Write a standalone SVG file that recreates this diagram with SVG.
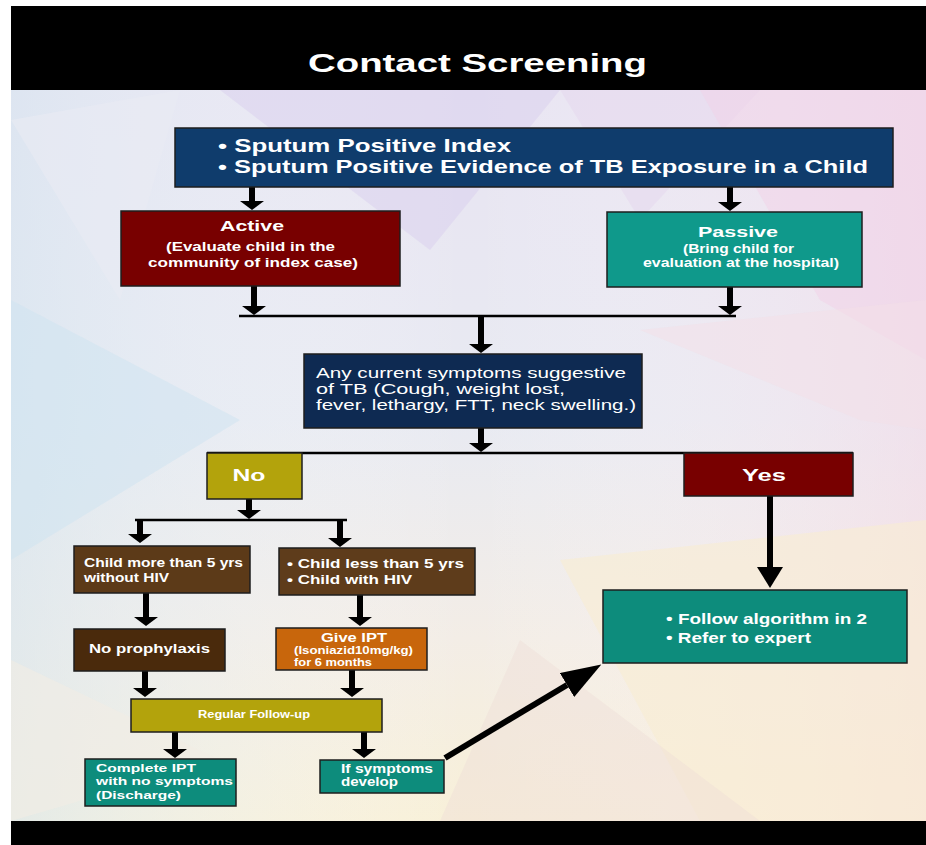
<svg xmlns="http://www.w3.org/2000/svg" width="926" height="845" viewBox="0 0 926 845">
<defs>
  <linearGradient id="bgV" x1="0" y1="0" x2="0" y2="1">
    <stop offset="0" stop-color="#e8e4f2"/>
    <stop offset="0.45" stop-color="#e8eaf2"/>
    <stop offset="0.75" stop-color="#f3ede6"/>
    <stop offset="1" stop-color="#f8f0d8"/>
  </linearGradient>
  <linearGradient id="bgH" x1="0" y1="0" x2="1" y2="0">
    <stop offset="0" stop-color="#d6e6f0" stop-opacity="0.6"/>
    <stop offset="0.5" stop-color="#ffffff" stop-opacity="0"/>
    <stop offset="1" stop-color="#f7d8e6" stop-opacity="0.5"/>
  </linearGradient>
  <marker id="ah" markerUnits="userSpaceOnUse" markerWidth="9" markerHeight="24" viewBox="0 0 9 24" refX="0" refY="12" orient="auto">
    <path d="M0,0 L9,12 L0,24 Z" fill="#000"/>
  </marker>
  <marker id="ahY" markerUnits="userSpaceOnUse" markerWidth="21" markerHeight="26" viewBox="0 0 21 26" refX="0" refY="13" orient="auto">
    <path d="M0,0 L21,13 L0,26 Z" fill="#000"/>
  </marker>
  <marker id="ahD" markerUnits="userSpaceOnUse" markerWidth="40" markerHeight="28" viewBox="0 0 40 28" refX="0" refY="14" orient="auto">
    <path d="M0,0 L40,14 L0,28 Z" fill="#000"/>
  </marker>
  <style>
    .box { stroke: #1e1e1e; stroke-width: 1.5; }
    .t { font-family: "Liberation Sans", Arial, sans-serif; fill: #ffffff; }
    .b { font-weight: bold; }
    .c { text-anchor: middle; }
    .sh { stroke: #000; stroke-width: 6; fill: none; }
    .bar { stroke: #000; stroke-width: 2.5; fill: none; }
  </style>
</defs>

<!-- background -->
<rect x="0" y="0" width="926" height="845" fill="#ffffff"/>
<rect x="11" y="90" width="915" height="731" fill="url(#bgV)"/>
<rect x="11" y="90" width="915" height="731" fill="url(#bgH)"/>
<polygon points="220,90 560,90 430,250" fill="#d8cbee" opacity="0.45"/>
<polygon points="560,90 760,90 640,220" fill="#e4d4ee" opacity="0.45"/>
<polygon points="700,90 926,90 926,360 820,300" fill="#f2d2e8" opacity="0.5"/>
<polygon points="11,300 240,420 11,560" fill="#d0e4f0" opacity="0.55"/>
<polygon points="11,120 180,90 120,300" fill="#e9ebf4" opacity="0.6"/>
<polygon points="560,560 926,520 926,821 700,821" fill="#f9ecd2" opacity="0.6"/>
<polygon points="520,640 760,821 440,821" fill="#eddcd6" opacity="0.4"/>
<polygon points="11,660 220,760 11,821" fill="#f1ece4" opacity="0.6"/>
<polygon points="640,330 926,300 926,430 860,420" fill="#f4dfe8" opacity="0.5"/>

<!-- frame bands -->
<rect x="11" y="6" width="915" height="84" fill="#000"/>
<rect x="11" y="821" width="915" height="24" fill="#000"/>
<text id="title" class="t b c" x="477.5" y="72" font-size="26" textLength="339" lengthAdjust="spacingAndGlyphs">Contact Screening</text>

<!-- connectors -->
<g id="connectors">
  <line class="sh" x1="252" y1="187" x2="252" y2="201" marker-end="url(#ah)"/>
  <line class="sh" x1="730" y1="187" x2="730" y2="202" marker-end="url(#ah)"/>
  <line class="sh" x1="254" y1="286" x2="254" y2="306" marker-end="url(#ah)"/>
  <line class="sh" x1="730" y1="287" x2="730" y2="306" marker-end="url(#ah)"/>
  <line class="bar" x1="239" y1="316" x2="736" y2="316"/>
  <line class="sh" x1="481" y1="317" x2="481" y2="344" stroke-width="7" marker-end="url(#ah)"/>
  <line class="sh" x1="481" y1="428" x2="481" y2="443" marker-end="url(#ah)"/>
  <line class="bar" x1="207" y1="453" x2="853" y2="453"/>
  <line class="sh" x1="249" y1="499" x2="249" y2="510" marker-end="url(#ah)"/>
  <line class="bar" x1="135" y1="520" x2="347" y2="520"/>
  <line class="sh" x1="140" y1="521" x2="140" y2="534" marker-end="url(#ah)"/>
  <line class="sh" x1="340" y1="521" x2="340" y2="538" marker-end="url(#ah)"/>
  <line class="sh" x1="146" y1="593" x2="146" y2="617" marker-end="url(#ah)"/>
  <line class="sh" x1="360" y1="595" x2="360" y2="617" marker-end="url(#ah)"/>
  <line class="sh" x1="145" y1="671" x2="145" y2="688" marker-end="url(#ah)"/>
  <line class="sh" x1="352" y1="670" x2="352" y2="688" marker-end="url(#ah)"/>
  <line class="sh" x1="175" y1="732" x2="175" y2="749" marker-end="url(#ah)"/>
  <line class="sh" x1="364" y1="732" x2="364" y2="749" marker-end="url(#ah)"/>
  <line class="sh" x1="770" y1="496" x2="770" y2="567" stroke-width="8" marker-end="url(#ahY)"/>
  <line class="sh" x1="445" y1="758" x2="567" y2="685" stroke-width="9" marker-end="url(#ahD)"/>
</g>

<g id="index">
  <rect class="box" x="175" y="128" width="718" height="59" fill="#0f3c6c"/>
  <text class="t b" x="218" y="152" font-size="19" textLength="293" lengthAdjust="spacingAndGlyphs">• Sputum Positive Index</text>
  <text class="t b" x="218" y="173" font-size="19" textLength="650" lengthAdjust="spacingAndGlyphs">• Sputum Positive Evidence of TB Exposure in a Child</text>
</g>

<g id="active">
  <rect class="box" x="121" y="211" width="279" height="75" fill="#780000"/>
  <text class="t b c" x="252" y="231" font-size="14.5" textLength="64" lengthAdjust="spacingAndGlyphs">Active</text>
  <text class="t b c" x="250.5" y="251" font-size="12.5" textLength="169" lengthAdjust="spacingAndGlyphs">(Evaluate child in the</text>
  <text class="t b c" x="253" y="267" font-size="12.5" textLength="210" lengthAdjust="spacingAndGlyphs">community of index case)</text>
</g>

<g id="passive">
  <rect class="box" x="607" y="212" width="255" height="75" fill="#0f998b"/>
  <text class="t b c" x="738" y="237" font-size="15" textLength="80" lengthAdjust="spacingAndGlyphs">Passive</text>
  <text class="t b c" x="738.5" y="253" font-size="12" textLength="111" lengthAdjust="spacingAndGlyphs">(Bring child for</text>
  <text class="t b c" x="741" y="267" font-size="12" textLength="196" lengthAdjust="spacingAndGlyphs">evaluation at the hospital)</text>
</g>

<g id="symptoms">
  <rect class="box" x="304" y="354" width="338" height="74" fill="#0e2a52"/>
  <text class="t" x="316" y="378" font-size="14.5" textLength="310" lengthAdjust="spacingAndGlyphs">Any current symptoms suggestive</text>
  <text class="t" x="316" y="394" font-size="14.5" textLength="249" lengthAdjust="spacingAndGlyphs">of TB (Cough, weight lost,</text>
  <text class="t" x="316" y="410" font-size="14.5" textLength="320" lengthAdjust="spacingAndGlyphs">fever, lethargy, FTT, neck swelling.)</text>
</g>

<g id="no">
  <rect class="box" x="207" y="453" width="95" height="46" fill="#b3a30c"/>
  <text class="t b c" x="249" y="481" font-size="17" textLength="33" lengthAdjust="spacingAndGlyphs">No</text>
</g>

<g id="yes">
  <rect class="box" x="684" y="453" width="169" height="43" fill="#780000"/>
  <text class="t b c" x="764" y="481" font-size="17" textLength="44" lengthAdjust="spacingAndGlyphs">Yes</text>
</g>

<g id="over5">
  <rect class="box" x="74" y="546" width="176" height="47" fill="#5c3a18"/>
  <text class="t b" x="84" y="567" font-size="12.5" textLength="159" lengthAdjust="spacingAndGlyphs">Child more than 5 yrs</text>
  <text class="t b" x="84" y="582" font-size="12.5" textLength="85" lengthAdjust="spacingAndGlyphs">without HIV</text>
</g>

<g id="under5">
  <rect class="box" x="279" y="548" width="196" height="47" fill="#5e3c1b"/>
  <text class="t b" x="287" y="568" font-size="13" textLength="177" lengthAdjust="spacingAndGlyphs">• Child less than 5 yrs</text>
  <text class="t b" x="287" y="584" font-size="13" textLength="125" lengthAdjust="spacingAndGlyphs">• Child with HIV</text>
</g>

<g id="noprophylaxis">
  <rect class="box" x="74" y="629" width="151" height="42" fill="#4a2a0c"/>
  <text class="t b" x="89" y="653" font-size="13" textLength="121" lengthAdjust="spacingAndGlyphs">No prophylaxis</text>
</g>

<g id="ipt">
  <rect class="box" x="276" y="628" width="151" height="42" fill="#c8660c"/>
  <text class="t b c" x="354" y="642" font-size="13" textLength="66" lengthAdjust="spacingAndGlyphs">Give IPT</text>
  <text class="t b" x="294" y="654" font-size="10" textLength="119" lengthAdjust="spacingAndGlyphs">(Isoniazid10mg/kg)</text>
  <text class="t b" x="294" y="666" font-size="10" textLength="78" lengthAdjust="spacingAndGlyphs">for 6 months</text>
</g>

<g id="followup">
  <rect class="box" x="131" y="699" width="251" height="33" fill="#b3a30c"/>
  <text class="t b c" x="254" y="718" font-size="10.5" textLength="112" lengthAdjust="spacingAndGlyphs">Regular Follow-up</text>
</g>

<g id="discharge">
  <rect class="box" x="85" y="759" width="151" height="47" fill="#0d8c7c"/>
  <text class="t b" x="96" y="772" font-size="11.5" textLength="100" lengthAdjust="spacingAndGlyphs">Complete IPT</text>
  <text class="t b" x="96" y="785" font-size="11.5" textLength="137" lengthAdjust="spacingAndGlyphs">with no symptoms</text>
  <text class="t b" x="96" y="799" font-size="11" textLength="85" lengthAdjust="spacingAndGlyphs">(Discharge)</text>
</g>

<g id="ifsymptoms">
  <rect class="box" x="320" y="760" width="124" height="33" fill="#0d8c7c"/>
  <text class="t b" x="341" y="773" font-size="12" textLength="92" lengthAdjust="spacingAndGlyphs">If symptoms</text>
  <text class="t b" x="341" y="786" font-size="12" textLength="57" lengthAdjust="spacingAndGlyphs">develop</text>
</g>

<g id="refer">
  <rect class="box" x="603" y="590" width="304" height="73" fill="#0d8c7c"/>
  <text class="t b" x="666" y="624" font-size="14" textLength="201" lengthAdjust="spacingAndGlyphs">• Follow algorithm in 2</text>
  <text class="t b" x="666" y="643" font-size="14" textLength="145" lengthAdjust="spacingAndGlyphs">• Refer to expert</text>
</g>
</svg>
